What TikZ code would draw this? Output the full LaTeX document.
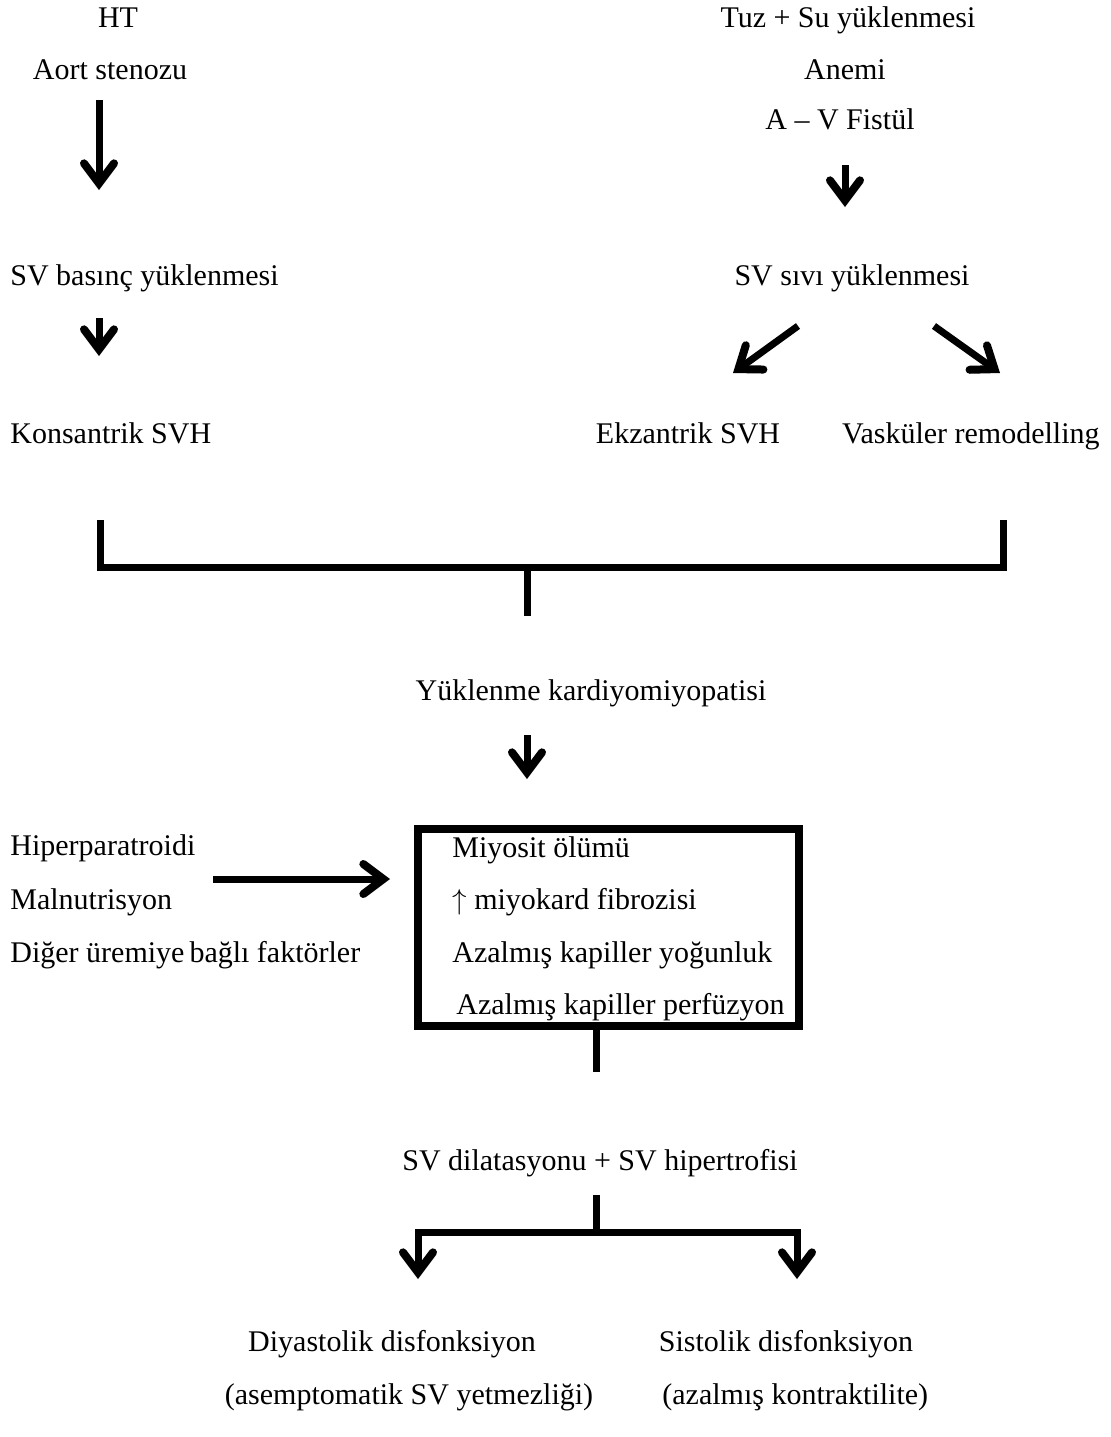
\documentclass[tikz,border=0pt]{standalone}
\usepackage{fontspec}
\setmainfont{Liberation Serif}
\usetikzlibrary{arrows.meta}
\tikzset{
	metin/.style={font=\fontsize{15pt}{18pt}\selectfont, inner sep=0pt, anchor=base},
	solmetin/.style={metin, anchor=base west},
	kalin/.style={line width=3.5pt},
	pfeil/.style={kalin, -{Straight Barb[length=10pt,width=15pt,line width=4pt,line cap=round,line join=miter]}}
}
\begin{document}
	\begin{tikzpicture}[x=0.5pt,y=-0.5pt]
		\useasboundingbox (0,0) rectangle (1111,1437);
		\node[metin] (ht) at (118,27) {HT};
		\node[metin] (aort) at (110,79) {Aort stenozu};
		\node[solmetin] (svbasinc) at (10,285) {SV basınç yüklenmesi};
		\node[solmetin] (konsantrik) at (10,443) {Konsantrik SVH};
		\node[metin] (tuz) at (848,27) {Tuz + Su yüklenmesi};
		\node[metin] (anemi) at (845,79) {Anemi};
		\node[metin] (avfistul) at (840,129) {A – V Fistül};
		\node[metin] (svsivi) at (852,285) {SV sıvı yüklenmesi};
		\node[metin] (ekzantrik) at (688,443) {Ekzantrik SVH};
		\node[metin, anchor=base east] (vaskuler) at (1100,443) {Vasküler remodelling};
		\node[metin] (yuklenme) at (591,700) {Yüklenme kardiyomiyopatisi};
		\node[draw, line width=4pt, inner sep=0pt, minimum width=190.5pt, minimum height=98.5pt] (kutu) at (608.5,927.5) {};
		\node[solmetin] (miyosit) at (452,857) {Miyosit ölümü};
		\node[solmetin] (fibroz) at (452,909) {$\uparrow$ miyokard fibrozisi};
		\node[solmetin] (yogunluk) at (452,962) {Azalmış kapiller yoğunluk};
		\node[solmetin] (perfuzyon) at (456,1014) {Azalmış kapiller perfüzyon};
		\node[solmetin] (hiper) at (10,855) {Hiperparatroidi};
		\node[solmetin] (malnut) at (10,909) {Malnutrisyon};
		\node[solmetin] (diger) at (10,962) {Diğer üremiye\,bağlı faktörler};
		\node[metin] (dilatasyon) at (600,1170) {SV dilatasyonu + SV hipertrofisi};
		\node[metin] (diyastolik) at (392,1351) {Diyastolik disfonksiyon};
		\node[metin] (asempt) at (409,1404) {(asemptomatik SV yetmezliği)};
		\node[metin] (sistolik) at (786,1351) {Sistolik disfonksiyon};
		\node[solmetin] (kontrakt) at (662,1404) {(azalmış kontraktilite)};

		\coordinate (sol) at (100,520);
		\coordinate (sag) at (1003,520);
		\coordinate (orta) at (527,567);
		\coordinate (catal) at (596,1232);

		\draw[pfeil] (99,100) -- (99,190);
		\draw[pfeil] (99,318) -- (99,356);
		\draw[pfeil] (845,165) -- (845,207);
		\draw[pfeil] (798,326) -- (733,373);
		\draw[pfeil] (934,326) -- (1000,373);
		\draw[kalin] (sol) -- (sol |- orta) -- (sag |- orta) -- (sag);
		\draw[kalin] (orta) -- ++(0,49);
		\draw[pfeil] (527,735) -- (527,779);
		\draw[pfeil] (213,879) -- ([xshift=-12pt]kutu.west |- 0,879);
		\draw[kalin] (kutu.south -| catal) -- ++(0,42);
		\draw[kalin] (596,1195) -- (catal);
		\draw[pfeil] (catal) -| (418,1279);
		\draw[pfeil] (catal) -| (797,1279);
	\end{tikzpicture}
\end{document}
